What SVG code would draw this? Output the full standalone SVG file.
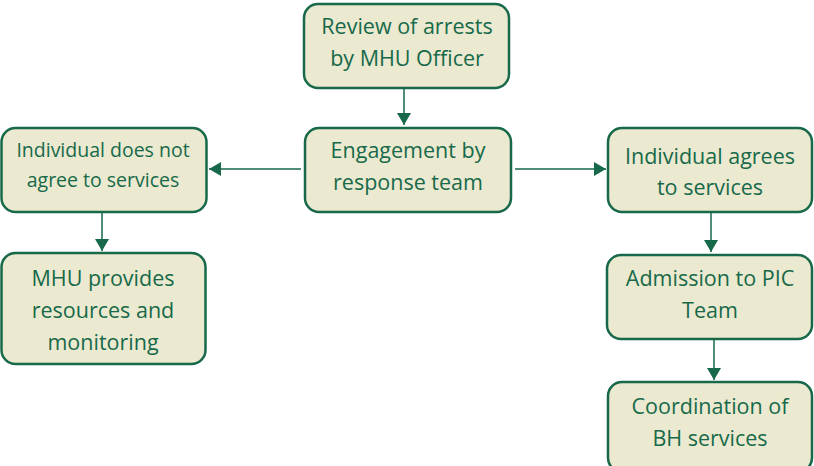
<svg xmlns="http://www.w3.org/2000/svg" width="814" height="466" viewBox="0 0 814 466">
  <defs>
    <marker id="arrow" viewBox="0 0 12 14" refX="12" refY="7" markerWidth="12" markerHeight="14" orient="auto" markerUnits="userSpaceOnUse">
      <path d="M0,0 L12,7 L0,14 Z" fill="#17694a"/>
    </marker>
  </defs>
  <style>
    .box { fill: #ebe9d0; stroke: #17694a; stroke-width: 2.5; }
    .lbl { fill: #17694a; font-family: "Open Sans", "Noto Sans", sans-serif; font-size: 21.5px; text-anchor: middle; }
    .sm { font-size: 19.5px; }
    .conn { stroke: #17694a; stroke-width: 1.5; fill: none; marker-end: url(#arrow); }
  </style>
  <rect width="814" height="466" fill="#ffffff"/>

  <g id="connectors">
    <line class="conn" x1="404" y1="88" x2="404" y2="125"/>
    <line class="conn" x1="301" y1="169" x2="209" y2="169"/>
    <line class="conn" x1="515" y1="169" x2="606" y2="169"/>
    <line class="conn" x1="102" y1="213" x2="102" y2="251"/>
    <line class="conn" x1="711" y1="213" x2="711" y2="252"/>
    <line class="conn" x1="714" y1="340" x2="714" y2="380"/>
  </g>

  <g id="review">
    <rect class="box" x="304" y="4" width="205" height="84" rx="14"/>
    <text class="lbl" x="407" y="34">Review of arrests</text>
    <text class="lbl" x="407" y="66">by MHU Officer</text>
  </g>

  <g id="engagement">
    <rect class="box" x="305" y="128" width="206" height="84" rx="14"/>
    <text class="lbl" x="408" y="158">Engagement by</text>
    <text class="lbl" x="408" y="190">response team</text>
  </g>

  <g id="not-agree">
    <rect class="box" x="1.5" y="128" width="205" height="84" rx="14"/>
    <text class="lbl sm" x="103" y="157">Individual does not</text>
    <text class="lbl sm" x="103" y="187">agree to services</text>
  </g>

  <g id="mhu-provides">
    <rect class="box" x="1.5" y="253" width="204" height="111" rx="14"/>
    <text class="lbl" x="103" y="286">MHU provides</text>
    <text class="lbl" x="103" y="318">resources and</text>
    <text class="lbl" x="103" y="350">monitoring</text>
  </g>

  <g id="agrees">
    <rect class="box" x="608" y="128" width="204" height="84" rx="14"/>
    <text class="lbl" x="710" y="164">Individual agrees</text>
    <text class="lbl" x="710" y="195">to services</text>
  </g>

  <g id="admission">
    <rect class="box" x="607" y="255" width="205" height="84" rx="14"/>
    <text class="lbl" x="710" y="286">Admission to PIC</text>
    <text class="lbl" x="710" y="318">Team</text>
  </g>

  <g id="coordination">
    <rect class="box" x="608" y="382" width="204" height="90" rx="14"/>
    <text class="lbl" x="710" y="414">Coordination of</text>
    <text class="lbl" x="710" y="446">BH services</text>
  </g>
</svg>
